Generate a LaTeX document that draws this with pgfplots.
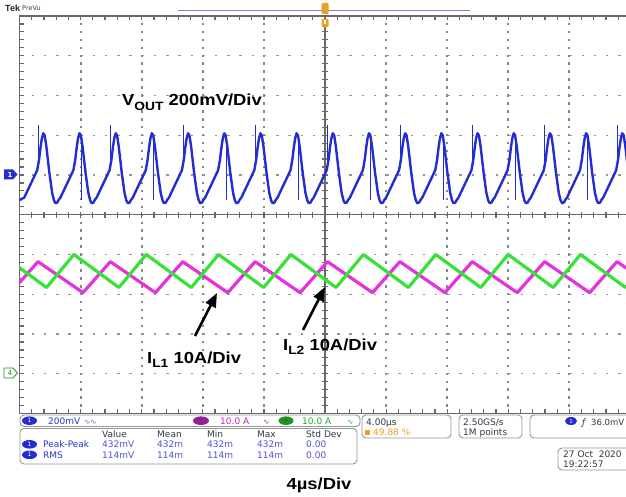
\documentclass[border=0pt]{standalone}
\usepackage{pgfplots}
\pgfplotsset{compat=1.18}
\usepackage{graphicx}
\usepackage{fontspec}
\setmainfont{Liberation Sans}
\newfontfamily\uifam{DejaVu Sans}
\usetikzlibrary{arrows.meta}
\definecolor{vblue}{RGB}{35,45,210}
\definecolor{imag}{RGB}{228,50,220}
\definecolor{igrn}{RGB}{55,225,55}
\definecolor{gridc}{RGB}{150,150,150}
\definecolor{gridv}{RGB}{135,135,135}
\definecolor{borderc}{RGB}{105,105,105}
\definecolor{uiblue}{RGB}{45,55,200}
\definecolor{uimeas}{RGB}{80,80,220}
\definecolor{pillmag}{RGB}{150,30,150}
\definecolor{pillgrn}{RGB}{30,150,30}
\definecolor{txtmag}{RGB}{200,40,190}
\definecolor{txtgrn}{RGB}{40,170,40}
\definecolor{uiorange}{RGB}{235,160,40}
\definecolor{boxc}{RGB}{150,150,150}
\definecolor{uidark}{RGB}{55,55,70}
\definecolor{topline}{RGB}{130,130,215}
\newcommand\ui{\uifam\fontsize{9}{10}\selectfont}
\newcommand\annot{\bfseries\fontsize{16}{18}\selectfont}
\newcommand\sub[1]{\raisebox{-0.28em}{\fontsize{12}{12}\selectfont #1}}
\begin{document}
\begin{tikzpicture}
\useasboundingbox (0pt,-497pt) rectangle (626pt,0pt);
% graticule (10 x 10 divisions, right edge beyond the page as in the screenshot)
\begin{scope}[x=1pt,y=-1pt]
\foreach \i in {1,2,3,4,6,7,8,9}
  \foreach \k in {0,...,49}
    \fill[gridv] ({18.5+61.1*\i},{14.8+7.95*\k}) rectangle ++(2,2.4);
\foreach \j in {1,2,3,4,6,7,8,9}
  \draw[gridc, line width=1.4pt, dash pattern=on 2.4pt off 9.82pt] (19.5,{16+39.75*\j}) -- (640,{16+39.75*\j});
\fill[borderc] (324.4,16) rectangle (325.6,413.5);
\fill[borderc] (19.5,214.2) rectangle (640,215.3);
\foreach \k in {1,...,50} {
  \fill[borderc] ({18.9+12.22*\k},211.5) rectangle ++(1.2,6.5);
  \fill[borderc] ({18.9+12.22*\k},16) rectangle ++(1.2,4.5);
  \fill[borderc] ({18.9+12.22*\k},409) rectangle ++(1.2,4.5);
  \fill[borderc] (321.75,{15.4+7.95*\k}) rectangle ++(6.5,1.2);
  \fill[borderc] (19.5,{15.4+7.95*\k}) rectangle ++(4.5,1.2);
}
\fill[borderc] (19.5,15.2) rectangle (640,16.8);
\fill[borderc] (18.7,15.2) rectangle (20.3,414.3);
\fill[borderc] (19.5,412.7) rectangle (640,414.3);
\end{scope}
% traces
\begin{axis}[at={(19.5pt,-413.5pt)}, anchor=south west, scale only axis,
  width=611pt, height=397.5pt, xmin=0, xmax=40, ymin=-5, ymax=5,
  hide axis, unbounded coords=jump]
\addplot[imag, line width=3.2pt, line join=round] coordinates {
(-0.581,-1.96)(1.211,-1.18)(4.157,-1.96)(5.949,-1.18)(8.895,-1.96)(10.687,-1.18)(13.633,-1.96)(15.425,-1.18)(18.371,-1.96)(20.163,-1.18)(23.109,-1.96)(24.901,-1.18)(27.847,-1.96)(29.639,-1.18)(32.585,-1.96)(34.377,-1.18)(37.323,-1.96)(39.115,-1.18)(42.061,-1.96)};
\addplot[igrn, line width=3.2pt, line join=round] coordinates {
(-1.178,-1.00)(1.77,-1.83)(3.56,-1.00)(6.508,-1.83)(8.298,-1.00)(11.246,-1.83)(13.036,-1.00)(15.984,-1.83)(17.774,-1.00)(20.722,-1.83)(22.512,-1.00)(25.46,-1.83)(27.25,-1.00)(30.198,-1.83)(31.988,-1.00)(34.936,-1.83)(36.726,-1.00)(39.674,-1.83)(41.464,-1.00)};
\addplot[vblue, line width=2.4pt, line join=round] coordinates {
(0,0.37)
(0.308,0.43)(1.158,1.12)(1.278,1.38)(1.378,1.70)(1.468,1.93)(1.558,2.05)(1.648,2.00)(1.758,1.72)(1.958,1.05)(2.138,0.55)(2.258,0.36)(2.358,0.29)(2.478,0.31)(2.558,0.37)
(2.677,0.43)(3.527,1.12)(3.647,1.38)(3.747,1.70)(3.837,1.93)(3.927,2.05)(4.017,2.00)(4.127,1.72)(4.327,1.05)(4.507,0.55)(4.627,0.36)(4.727,0.29)(4.847,0.31)(4.927,0.37)
(5.046,0.43)(5.896,1.12)(6.016,1.38)(6.116,1.70)(6.206,1.93)(6.296,2.05)(6.386,2.00)(6.496,1.72)(6.696,1.05)(6.876,0.55)(6.996,0.36)(7.096,0.29)(7.216,0.31)(7.296,0.37)
(7.415,0.43)(8.265,1.12)(8.385,1.38)(8.485,1.70)(8.575,1.93)(8.665,2.05)(8.755,2.00)(8.865,1.72)(9.065,1.05)(9.245,0.55)(9.365,0.36)(9.465,0.29)(9.585,0.31)(9.665,0.37)
(9.784,0.43)(10.634,1.12)(10.754,1.38)(10.854,1.70)(10.944,1.93)(11.034,2.05)(11.124,2.00)(11.234,1.72)(11.434,1.05)(11.614,0.55)(11.734,0.36)(11.834,0.29)(11.954,0.31)(12.034,0.37)
(12.153,0.43)(13.003,1.12)(13.123,1.38)(13.223,1.70)(13.313,1.93)(13.403,2.05)(13.493,2.00)(13.603,1.72)(13.803,1.05)(13.983,0.55)(14.103,0.36)(14.203,0.29)(14.323,0.31)(14.403,0.37)
(14.522,0.43)(15.372,1.12)(15.492,1.38)(15.592,1.70)(15.682,1.93)(15.772,2.05)(15.862,2.00)(15.972,1.72)(16.172,1.05)(16.352,0.55)(16.472,0.36)(16.572,0.29)(16.692,0.31)(16.772,0.37)
(16.891,0.43)(17.741,1.12)(17.861,1.38)(17.961,1.70)(18.051,1.93)(18.141,2.05)(18.231,2.00)(18.341,1.72)(18.541,1.05)(18.721,0.55)(18.841,0.36)(18.941,0.29)(19.061,0.31)(19.141,0.37)
(19.260,0.43)(20.110,1.12)(20.230,1.38)(20.330,1.70)(20.420,1.93)(20.510,2.05)(20.600,2.00)(20.710,1.72)(20.910,1.05)(21.090,0.55)(21.210,0.36)(21.310,0.29)(21.430,0.31)(21.510,0.37)
(21.629,0.43)(22.479,1.12)(22.599,1.38)(22.699,1.70)(22.789,1.93)(22.879,2.05)(22.969,2.00)(23.079,1.72)(23.279,1.05)(23.459,0.55)(23.579,0.36)(23.679,0.29)(23.799,0.31)(23.879,0.37)
(23.998,0.43)(24.848,1.12)(24.968,1.38)(25.068,1.70)(25.158,1.93)(25.248,2.05)(25.338,2.00)(25.448,1.72)(25.648,1.05)(25.828,0.55)(25.948,0.36)(26.048,0.29)(26.168,0.31)(26.248,0.37)
(26.367,0.43)(27.217,1.12)(27.337,1.38)(27.437,1.70)(27.527,1.93)(27.617,2.05)(27.707,2.00)(27.817,1.72)(28.017,1.05)(28.197,0.55)(28.317,0.36)(28.417,0.29)(28.537,0.31)(28.617,0.37)
(28.736,0.43)(29.586,1.12)(29.706,1.38)(29.806,1.70)(29.896,1.93)(29.986,2.05)(30.076,2.00)(30.186,1.72)(30.386,1.05)(30.566,0.55)(30.686,0.36)(30.786,0.29)(30.906,0.31)(30.986,0.37)
(31.105,0.43)(31.955,1.12)(32.075,1.38)(32.175,1.70)(32.265,1.93)(32.355,2.05)(32.445,2.00)(32.555,1.72)(32.755,1.05)(32.935,0.55)(33.055,0.36)(33.155,0.29)(33.275,0.31)(33.355,0.37)
(33.474,0.43)(34.324,1.12)(34.444,1.38)(34.544,1.70)(34.634,1.93)(34.724,2.05)(34.814,2.00)(34.924,1.72)(35.124,1.05)(35.304,0.55)(35.424,0.36)(35.524,0.29)(35.644,0.31)(35.724,0.37)
(35.843,0.43)(36.693,1.12)(36.813,1.38)(36.913,1.70)(37.003,1.93)(37.093,2.05)(37.183,2.00)(37.293,1.72)(37.493,1.05)(37.673,0.55)(37.793,0.36)(37.893,0.29)(38.013,0.31)(38.093,0.37)
(38.212,0.43)(39.062,1.12)(39.182,1.38)(39.282,1.70)(39.372,1.93)(39.462,2.05)(39.552,2.00)(39.662,1.72)(39.862,1.05)(40.042,0.55)};
\addplot[vblue, line width=0.8pt] coordinates {
(1.228,1.27)(1.228,2.25)(1.228,nan)
(4.037,1.95)(4.037,0.37)(4.037,nan)
(5.966,1.27)(5.966,2.25)(5.966,nan)
(8.775,1.95)(8.775,0.37)(8.775,nan)
(10.704,1.27)(10.704,2.25)(10.704,nan)
(13.513,1.95)(13.513,0.37)(13.513,nan)
(15.442,1.27)(15.442,2.25)(15.442,nan)
(18.251,1.95)(18.251,0.37)(18.251,nan)
(20.180,1.27)(20.180,2.25)(20.180,nan)
(22.989,1.95)(22.989,0.37)(22.989,nan)
(24.918,1.27)(24.918,2.25)(24.918,nan)
(27.727,1.95)(27.727,0.37)(27.727,nan)
(29.656,1.27)(29.656,2.25)(29.656,nan)
(32.465,1.95)(32.465,0.37)(32.465,nan)
(34.394,1.27)(34.394,2.25)(34.394,nan)
(37.203,1.95)(37.203,0.37)(37.203,nan)
(39.132,1.27)(39.132,2.25)};
\end{axis}
\begin{scope}[x=1pt,y=-1pt]
\tikzset{uibox/.style={draw=boxc, line width=0.9pt, rounded corners=4pt, fill=white},
  t/.style={anchor=base west, inner sep=0pt}}
% top bar
\node[t, font=\bfseries\fontsize{9}{9}\selectfont, text=black!85] at (5,12) {Tek};
\node[t, font=\uifam\fontsize{6.5}{7}\selectfont, text=black!75] at (22,11) {PreVu};
\fill[topline] (178,9.9) rectangle (470,11.1);
\fill[uiorange, rounded corners=1pt] (321.5,3) rectangle (328.5,14);
\fill[uiorange, rounded corners=1pt] (321.5,19) rectangle (328.5,27);
\fill[white] (323.6,20.5) rectangle (326.4,24.5);
% channel markers
\fill[vblue] (4,169.5) -- (13,169.5) -- (17.5,174.5) -- (13,179.5) -- (4,179.5) -- cycle;
\node[text=white, inner sep=0, font=\uifam\bfseries\fontsize{7}{7}\selectfont] at (10,174.5) {1};
\draw[pillgrn, fill=white, line width=0.8pt] (4,368) -- (13,368) -- (17.5,373) -- (13,378) -- (4,378) -- cycle;
\node[text=pillgrn, inner sep=0, font=\uifam\fontsize{7}{7}\selectfont] at (10,373) {4};
% channel bar
\draw[uibox] (20,415) rectangle (360,426.5);
\fill[vblue] (29.5,420.7) ellipse [x radius=7.5pt, y radius=4.3pt];
\node[text=white, inner sep=0, font=\uifam\fontsize{6}{6}\selectfont] at (29.5,420.7) {1};
\node[t, text=uiblue, font=\ui] at (48,424.5) {200mV};
\node[t, text=uiblue!70, font=\uifam\fontsize{7.5}{7}\selectfont] at (84,424) {∿∿};
\fill[pillmag] (201,420.7) ellipse [x radius=8pt, y radius=4.3pt];
\node[text=black!70, inner sep=0, font=\uifam\fontsize{6}{6}\selectfont] at (201,420.7) {3};
\node[t, text=txtmag, font=\ui] at (220,424.5) {10.0 A};
\node[t, text=txtmag, font=\uifam\fontsize{7.5}{7}\selectfont] at (263,424) {∿};
\fill[pillgrn] (286,420.7) ellipse [x radius=7.5pt, y radius=4.3pt];
\node[text=black!70, inner sep=0, font=\uifam\fontsize{6}{6}\selectfont] at (286,420.7) {4};
\node[t, text=txtgrn, font=\ui] at (302,424.5) {10.0 A};
\node[t, text=txtgrn, font=\uifam\fontsize{7.5}{7}\selectfont] at (347,424) {∿};
% measurement table
\draw[uibox] (20,428.5) rectangle (357,464);
\foreach \xx/\tt in {102/Value,157/Mean,207/Min,257/Max,306/Std Dev}
  \node[t, text=uidark, font=\ui] at (\xx,437) {\tt};
\fill[vblue] (29.5,444.3) ellipse [x radius=7.5pt, y radius=4.3pt];
\fill[vblue] (29.5,454.8) ellipse [x radius=7.5pt, y radius=4.3pt];
\node[text=white, inner sep=0, font=\uifam\fontsize{6}{6}\selectfont] at (29.5,444.3) {1};
\node[text=white, inner sep=0, font=\uifam\fontsize{6}{6}\selectfont] at (29.5,454.8) {1};
\node[t, text=uiblue, font=\ui] at (43,447.8) {Peak-Peak};
\node[t, text=uiblue, font=\ui] at (43,458.3) {RMS};
\foreach \xx/\tt in {102/432mV,157/432m,207/432m,257/432m,306/0.00}
  \node[t, text=uimeas, font=\ui] at (\xx,447.8) {\tt};
\foreach \xx/\tt in {102/114mV,157/114m,207/114m,257/114m,306/0.00}
  \node[t, text=uimeas, font=\ui] at (\xx,458.3) {\tt};
% timebase / acquisition / trigger boxes
\draw[uibox] (362,415) rectangle (451,438);
\node[t, text=uidark, font=\ui] at (366,425) {4.00µs};
\fill[uiorange] (364.5,429.5) rectangle (370,435);
\node[t, text=uiorange, font=\ui] at (373,435.5) {49.88 \%};
\draw[uibox] (459,415) rectangle (522,438);
\node[t, text=uidark, font=\ui] at (463,425) {2.50GS/s};
\node[t, text=uidark, font=\ui] at (463,435.5) {1M points};
\draw[uibox] (530,415) rectangle (640,438);
\fill[vblue] (571,421) ellipse [x radius=6pt, y radius=4pt];
\node[text=white, inner sep=0, font=\uifam\fontsize{5.5}{6}\selectfont] at (571,421) {1};
\node[t, text=uidark, font=\uifam\itshape\fontsize{9}{10}\selectfont] at (582,425) {ƒ};
\node[t, text=uidark, font=\uifam\fontsize{8.5}{10}\selectfont] at (591,425) {36.0mV};
\draw[uibox] (558,448) rectangle (640,470);
\node[t, text=uidark, font=\ui] at (563,457.5) {27 Oct\ \ 2020};
\node[t, text=uidark, font=\ui] at (563,467) {19:22:57};
% annotations
\node[t, font=\annot] at (122,106) {\scalebox{1.15}[1]{V\sub{OUT} 200mV/Div}};
\node[t, font=\annot] at (147,363) {\scalebox{1.15}[1]{I\sub{L1} 10A/Div}};
\node[t, font=\annot] at (283,350) {\scalebox{1.15}[1]{I\sub{L2} 10A/Div}};
\node[anchor=base, inner sep=0pt, font=\annot] at (319,489) {\scalebox{1.15}[1]{4µs/Div}};
\draw[line width=2.6pt, -{Triangle[length=14pt,width=11pt]}] (195,336) -- (217,293);
\draw[line width=2.6pt, -{Triangle[length=14pt,width=11pt]}] (303,330) -- (325,287);
\end{scope}
\end{tikzpicture}
\end{document}
